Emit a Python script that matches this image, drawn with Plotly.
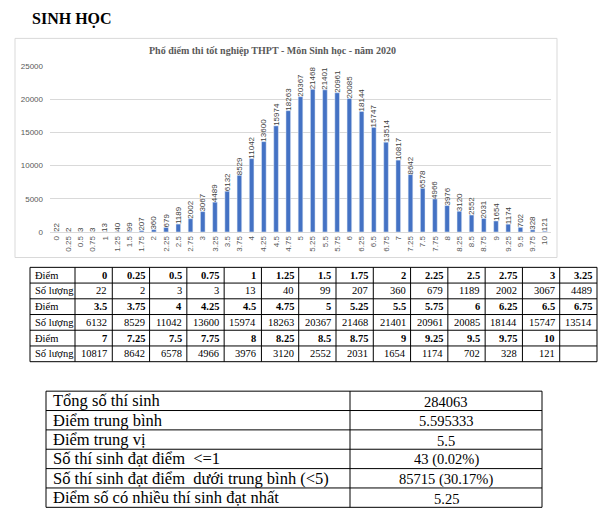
import plotly.graph_objects as go

# ---------------- data ----------------
scores = ["0", "0.25", "0.5", "0.75", "1", "1.25", "1.5", "1.75", "2", "2.25", "2.5",
          "2.75", "3", "3.25", "3.5", "3.75", "4", "4.25", "4.5", "4.75", "5", "5.25",
          "5.5", "5.75", "6", "6.25", "6.5", "6.75", "7", "7.25", "7.5", "7.75", "8",
          "8.25", "8.5", "8.75", "9", "9.25", "9.5", "9.75", "10"]
counts = [22, 2, 3, 3, 13, 40, 99, 207, 360, 679, 1189, 2002, 3067, 4489, 6132, 8529,
          11042, 13600, 15974, 18263, 20367, 21468, 21401, 20961, 20085, 18144, 15747,
          13514, 10817, 8642, 6578, 4966, 3976, 3120, 2552, 2031, 1654, 1174, 702, 328, 121]
y_ticks = [0, 5000, 10000, 15000, 20000, 25000]

page_title = "SINH HỌC"
chart_title = "Phổ điểm thi tốt nghiệp THPT - Môn Sinh học - năm 2020"
row_label_score = "Điểm"
row_label_count = "Số lượng"

stat_labels = ["Tổng số thí sinh", "Điểm trung bình", "Điểm trung vị",
               "Số thí sinh đạt điểm  <=1",
               "Số thí sinh đạt điểm  dưới trung bình (<5)",
               "Điểm số có nhiều thí sinh đạt nhất"]
stat_values = ["284063", "5.595333", "5.5", "43 (0.02%)", "85715 (30.17%)", "5.25"]

# ---------------- layout helpers ----------------
W, H = 603, 519


def px(x):
    return x / W


def py(y):
    return 1 - y / H


SERIF = "'Liberation Serif', 'Times New Roman', Times, 'DejaVu Serif', serif"
SANS = "'Liberation Sans', Arial, sans-serif"

fig = go.Figure()
fig.add_trace(go.Bar(
    x=scores, y=counts, marker_color="#4472C4", width=0.38,
    text=[str(c) for c in counts], textposition="outside", textangle=-90,
    textfont=dict(family=SANS, size=8, color="#404040"),
    constraintext="none", cliponaxis=False, hoverinfo="x+y",
))

shapes = []
annotations = []

# chart frame
shapes.append(dict(type="rect", xref="paper", yref="paper",
                   x0=px(15), x1=px(557), y0=py(258), y1=py(35),
                   line=dict(color="#d9d9d9", width=1), layer="below"))

annotations.append(dict(text=f"<b>{page_title}</b>", xref="paper", yref="paper",
                        x=px(30), y=py(15), xanchor="left", yanchor="middle",
                        showarrow=False, font=dict(family=SERIF, size=16, color="#000")))
annotations.append(dict(text=f"<b>{chart_title}</b>", xref="paper", yref="paper",
                        x=px(272), y=py(47), xanchor="center", yanchor="middle",
                        showarrow=False, font=dict(family=SERIF, size=10, color="#595959")))

# ---------------- score table ----------------
t_left, t_lab, t_right = 30, 75, 597
t_top, row_h = 268, 16
ncols = 14
col_w = (t_right - t_lab) / ncols
blocks = [(scores[i:i + ncols], counts[i:i + ncols]) for i in range(0, len(scores), ncols)]
nrows = 2 * len(blocks)
t_bottom = t_top + nrows * row_h

shapes.append(dict(type="rect", xref="paper", yref="paper", x0=px(t_left), x1=px(t_right),
                   y0=py(t_bottom), y1=py(t_top), line=dict(color="#000", width=1)))
for r in range(1, nrows):
    yy = t_top + r * row_h
    shapes.append(dict(type="line", xref="paper", yref="paper", x0=px(t_left), x1=px(t_right),
                       y0=py(yy), y1=py(yy), line=dict(color="#000", width=1)))
for c in range(ncols):
    xx = t_lab + c * col_w
    shapes.append(dict(type="line", xref="paper", yref="paper", x0=px(xx), x1=px(xx),
                       y0=py(t_bottom), y1=py(t_top), line=dict(color="#000", width=1)))

for b, (sc, ct) in enumerate(blocks):
    for k, (lab, vals, bold) in enumerate([(row_label_score, sc, True), (row_label_count, ct, False)]):
        r = 2 * b + k
        yc = t_top + (r + 0.5) * row_h
        annotations.append(dict(text=lab, xref="paper", yref="paper", x=px(t_left + 3), y=py(yc),
                                xanchor="left", yanchor="middle", showarrow=False,
                                font=dict(family=SERIF, size=10.5, color="#000")))
        for c, v in enumerate(vals):
            txt = f"<b>{v}</b>" if bold else str(v)
            annotations.append(dict(text=txt, xref="paper", yref="paper",
                                    x=px(t_lab + (c + 1) * col_w - 3), y=py(yc),
                                    xanchor="right", yanchor="middle", showarrow=False,
                                    font=dict(family=SERIF, size=10.5, color="#000")))

# ---------------- statistics table ----------------
s_left, s_div, s_right = 46, 350, 542
s_top, s_row = 394, 19.7
s_bottom = s_top + len(stat_labels) * s_row
shapes.append(dict(type="rect", xref="paper", yref="paper", x0=px(s_left), x1=px(s_right),
                   y0=py(s_bottom), y1=py(s_top), line=dict(color="#000", width=1)))
shapes.append(dict(type="line", xref="paper", yref="paper", x0=px(s_div), x1=px(s_div),
                   y0=py(s_bottom), y1=py(s_top), line=dict(color="#000", width=1)))
for r in range(1, len(stat_labels)):
    yy = s_top + r * s_row
    shapes.append(dict(type="line", xref="paper", yref="paper", x0=px(s_left), x1=px(s_right),
                       y0=py(yy), y1=py(yy), line=dict(color="#000", width=1)))
for r, (lab, val) in enumerate(zip(stat_labels, stat_values)):
    yc = s_top + (r + 0.5) * s_row
    annotations.append(dict(text=lab, xref="paper", yref="paper", x=px(s_left + 5), y=py(yc),
                            xanchor="left", yanchor="middle", showarrow=False,
                            font=dict(family=SERIF, size=16.5, color="#000")))
    annotations.append(dict(text=val, xref="paper", yref="paper", x=px((s_div + s_right) / 2),
                            y=py(yc + 1), xanchor="center", yanchor="middle", showarrow=False,
                            font=dict(family=SERIF, size=14.5, color="#000")))

fig.update_layout(
    width=W, height=H, margin=dict(l=0, r=0, t=0, b=0),
    paper_bgcolor="white", plot_bgcolor="white", showlegend=False,
    shapes=shapes, annotations=annotations,
    xaxis=dict(domain=[px(50), px(551)], type="category", tickangle=-90,
               tickfont=dict(family=SANS, size=8, color="#595959"),
               showline=True, linecolor="#d9d9d9", ticks="", showgrid=False),
    yaxis=dict(domain=[py(232), py(63)], range=[0, 25000], tickvals=y_ticks,
               tickformat="d",
               tickfont=dict(family=SANS, size=8, color="#595959"),
               gridcolor="#d9d9d9", zeroline=False, showline=False, ticks="",
               ticklabelstandoff=6),
)

fig.write_html("out.html", config={"displayModeBar": False},
               post_script="document.body.style.margin='0';document.body.style.padding='0';")
